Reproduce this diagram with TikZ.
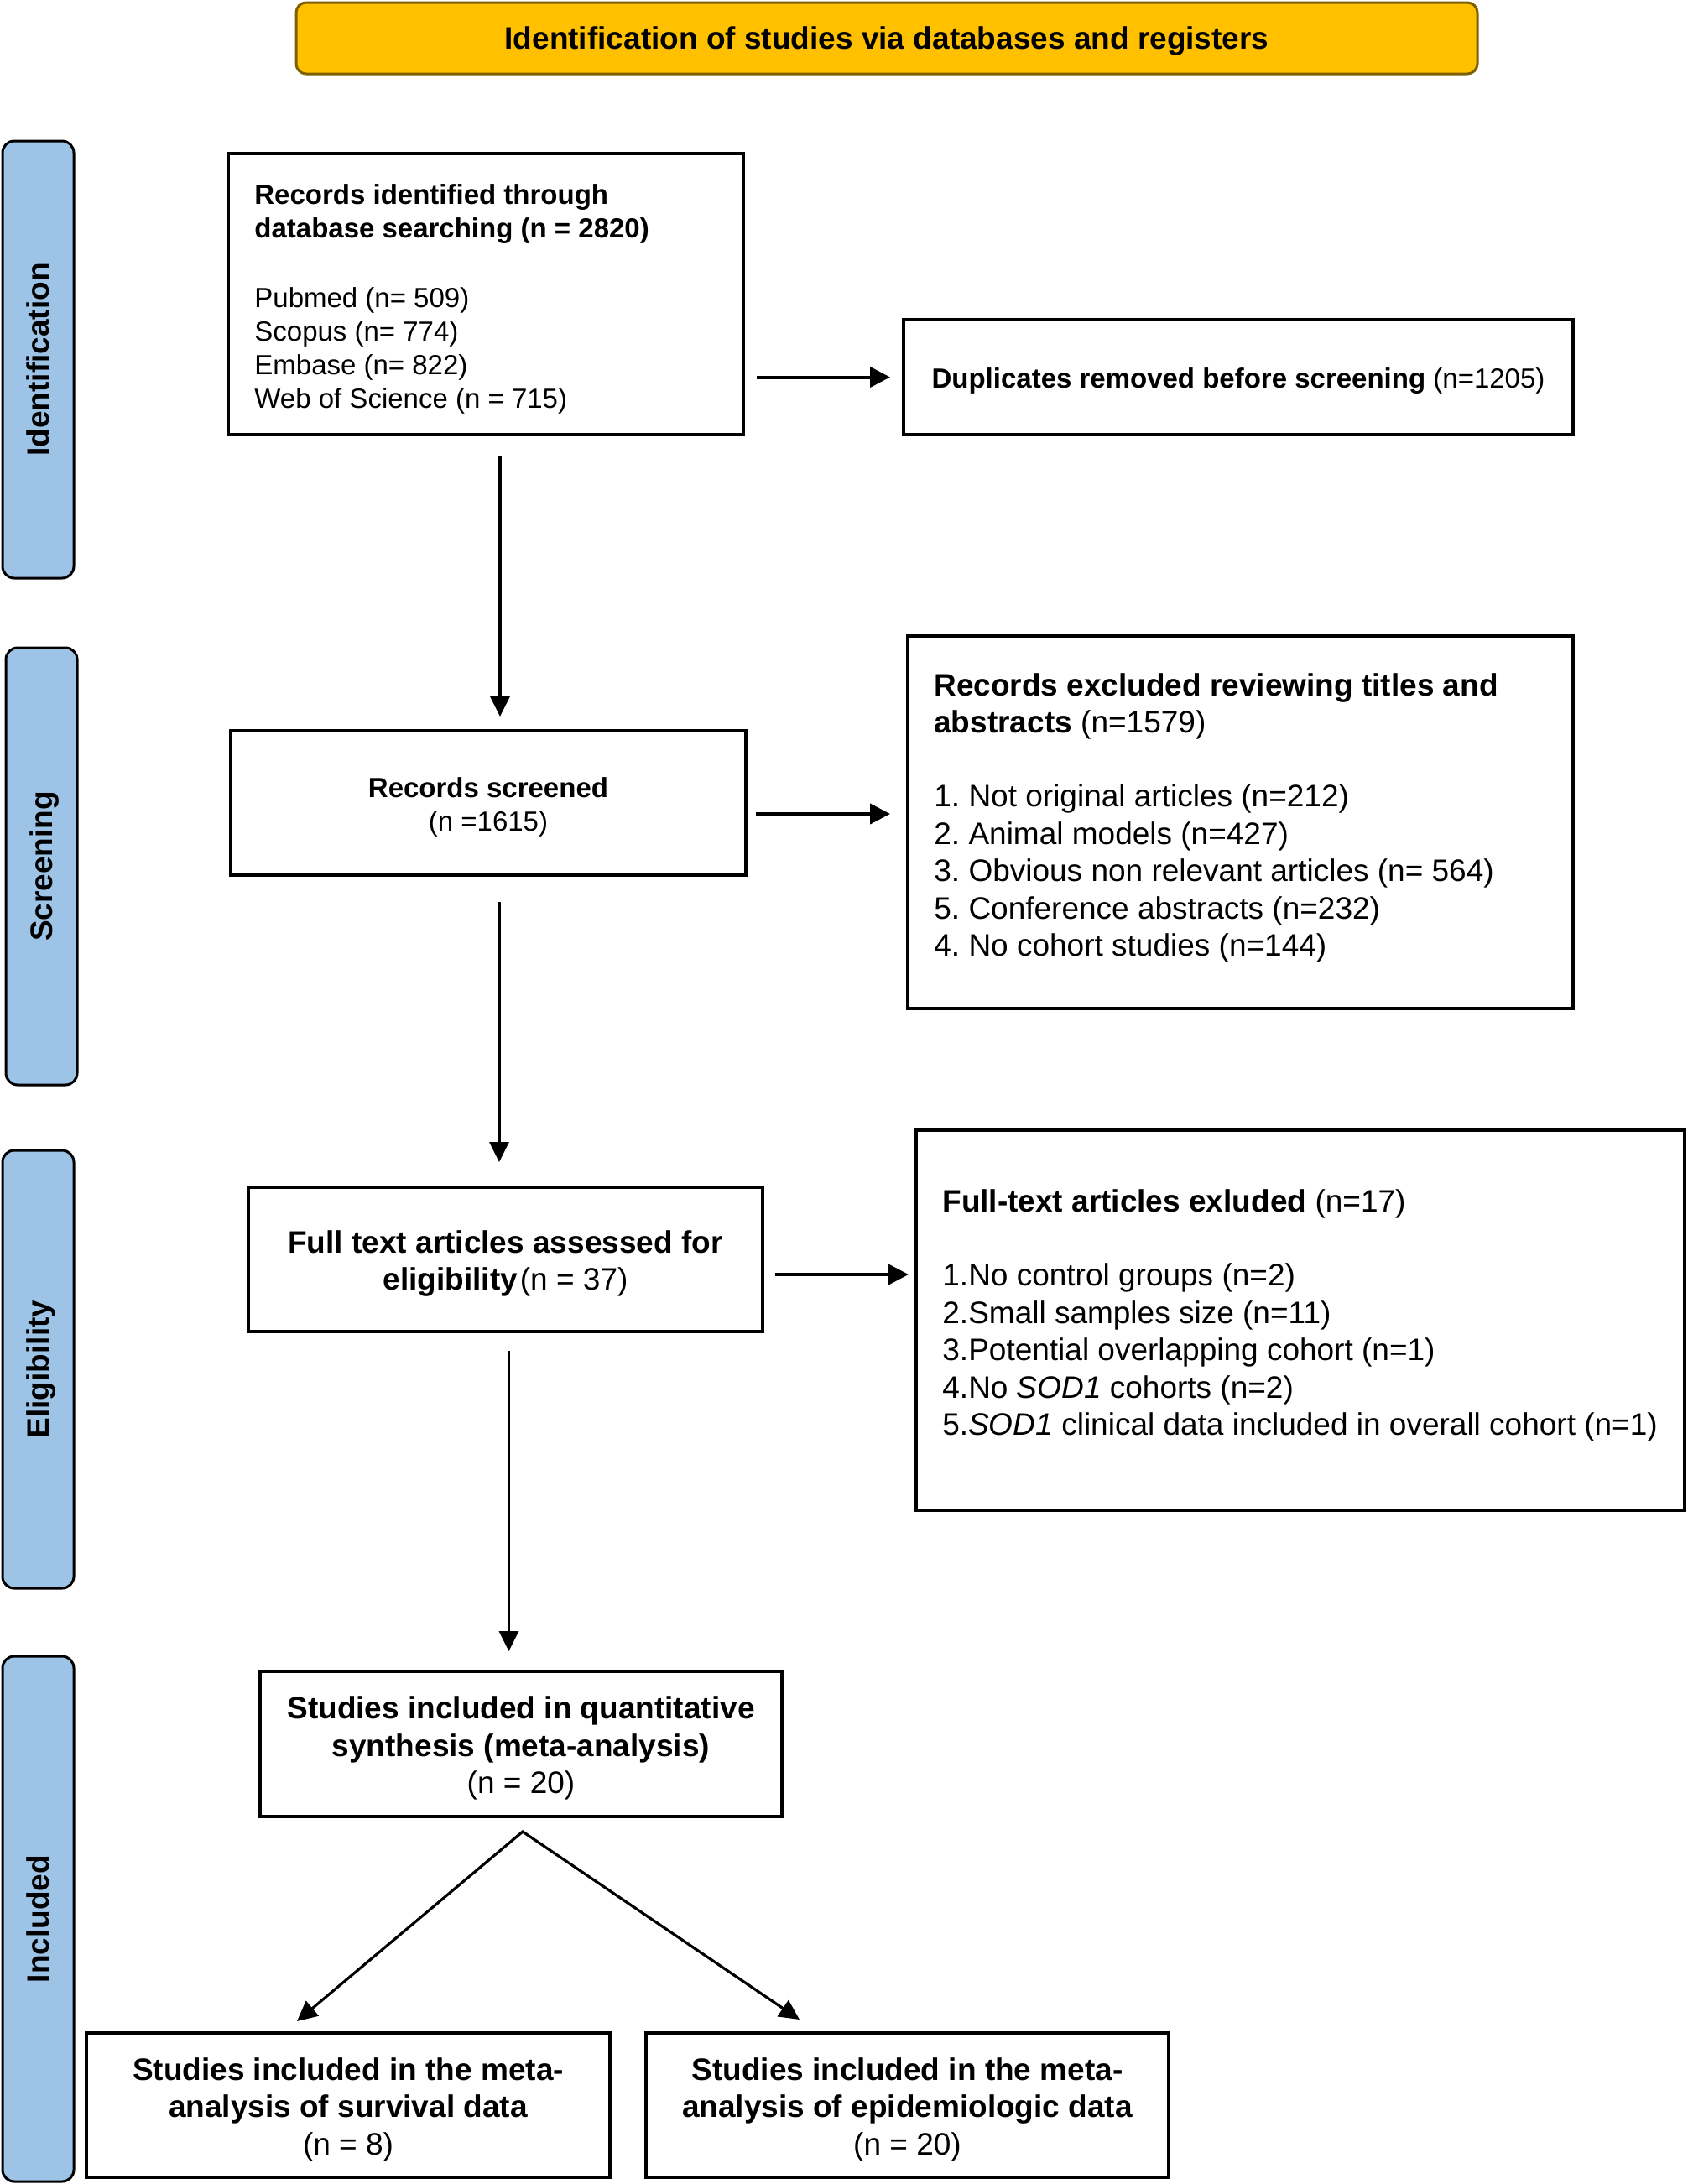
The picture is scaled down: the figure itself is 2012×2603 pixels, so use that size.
\documentclass[tikz,border=0pt]{standalone}
\usepackage{fontspec}
\setmainfont{Liberation Sans}
\usetikzlibrary{arrows.meta}
\definecolor{bangold}{HTML}{FFC000}
\definecolor{banedge}{HTML}{7F6000}
\definecolor{sideblue}{HTML}{9DC3E6}
\frenchspacing
\begin{document}
\begin{tikzpicture}[x=0.5pt,y=-0.5pt,
  box/.style={draw, line width=2pt, inner sep=0pt, fill=white},
  fsmall/.style={font=\fontsize{16.5}{20}\selectfont},
  fbig/.style={font=\fontsize{18.5}{22.25}\selectfont},
  sidebox/.style={draw, line width=1.5pt, fill=sideblue, rounded corners=7pt, rotate=90,
    inner sep=0pt, minimum height=42.5pt, font=\fontsize{18.5}{22}\selectfont\bfseries,
    text height=13.3pt, text depth=0pt},
  banner/.style={draw=banedge, line width=1.5pt, fill=bangold, rounded corners=6pt,
    inner sep=0pt, minimum width=704pt, minimum height=42.5pt},
  harr/.style={line width=2pt, -{Triangle[length=12pt,width=12pt]}},
  varr/.style={line width=1.6pt, -{Triangle[length=12pt,width=11.5pt]}},
  darr/.style={line width=1.6pt, {Triangle[length=12pt,width=11.5pt]}-{Triangle[length=12pt,width=11.5pt]}},
  txt/.style={inner sep=0pt, align=left, anchor=north west},
  ctxt/.style={inner sep=0pt, align=center}]
\fill[white] (0,0) rectangle (2012,2603);
\useasboundingbox (0,0) rectangle (2012,2603);

% banner
\node[banner] (ban) at (1057,45.5) {};
\node[ctxt, font=\fontsize{18.5}{22}\selectfont\bfseries] (bant) at ([yshift=-2pt]ban.center)
  {Identification of studies via databases and registers};

% side labels
\node[sidebox, minimum width=260.5pt] (sid) at (45.5,428.5) {Identification};
\node[sidebox, minimum width=260.5pt] (ssc) at (49.5,1032.5) {Screening};
\node[sidebox, minimum width=261pt] (sel) at (45.5,1632) {Eligibility};
\node[sidebox, minimum width=313pt] (sin) at (45.5,2287) {Included};

% boxes
\node[box, minimum width=307pt, minimum height=167.5pt] (b1) at (579,350.5) {};
\node[txt, fsmall] (b1t) at (303,219) {\textbf{Records identified through}\\
  \textbf{database searching (n = 2820)}\\[21.5pt]
  Pubmed (n= 509)\\ Scopus (n= 774)\\ Embase (n= 822)\\ Web of Science (n = 715)};

\node[box, minimum width=399pt, minimum height=68.5pt] (dup) at (1476,449.5) {};
\node[ctxt, fsmall] (dupt) at ([yshift=-2.5pt]dup.center)
  {\textbf{Duplicates removed before screening} (n=1205)};

\node[box, minimum width=307pt, minimum height=86pt] (rs) at (582,957) {};
\node[ctxt, fsmall] (rst) at ([yshift=-2.5pt]rs.center) {\textbf{Records screened}\\(n =1615)};

\node[box, minimum width=396.5pt, minimum height=222pt] (exc) at (1478.5,980) {};
\node[txt, fbig] (exct) at (1113,802) {\textbf{Records excluded reviewing titles and}\\
  \textbf{abstracts} (n=1579)\\[21.75pt]
  1. Not original articles (n=212)\\
  2. Animal models (n=427)\\
  3. Obvious non relevant articles (n= 564)\\
  5. Conference abstracts (n=232)\\
  4. No cohort studies (n=144)};

\node[box, minimum width=306.5pt, minimum height=86pt] (ft) at (602.5,1501) {};
\node[ctxt, fbig] (ftt) at ([yshift=-2.5pt]ft.center)
  {\textbf{Full text articles assessed for}\\\textbf{eligibility}\kern1.5pt(n = 37)};

\node[box, minimum width=458pt, minimum height=226.5pt] (ftx) at (1550,1573.5) {};
\node[txt, fbig] (ftxt) at (1123,1417) {\textbf{Full-text articles exluded} (n=17)\\[22pt]
  1.No control groups (n=2)\\
  2.Small samples size (n=11)\\
  3.Potential overlapping cohort (n=1)\\
  4.No \textit{SOD1} cohorts (n=2)\\
  5.\textit{SOD1} clinical data included in overall cohort (n=1)};

\node[box, minimum width=311pt, minimum height=86.5pt] (qb) at (621,2078.5) {};
\node[ctxt, fbig] (qbt) at ([yshift=-2.5pt]qb.center)
  {\textbf{Studies included in quantitative}\\\textbf{synthesis (meta-analysis)}\\(n = 20)};

\node[box, minimum width=312pt, minimum height=86pt] (bl) at (415,2509) {};
\node[ctxt, fbig] (blt) at ([yshift=-2.5pt]bl.center)
  {\textbf{Studies included in the meta-}\\\textbf{analysis of survival data}\\(n = 8)};
\node[box, minimum width=311.5pt, minimum height=86pt] (br) at (1081.5,2509) {};
\node[ctxt, fbig] (brt) at ([yshift=-2.5pt]br.center)
  {\textbf{Studies included in the meta-}\\\textbf{analysis of epidemiologic data}\\(n = 20)};

% connectors
\draw[harr, shorten <=7pt, shorten >=7pt] (b1.east |- dup.west) -- (dup.west);

\coordinate (h2) at ([yshift=-6.5pt]rs.east);
\draw[harr, shorten <=5pt, shorten >=9.5pt] (h2) -- (h2 -| exc.west);

\coordinate (h3) at ([yshift=-9pt]ft.east);
\draw[harr, shorten <=6.5pt, shorten >=3.5pt] (h3) -- (h3 -| ftx.west);

\coordinate (v1) at ([xshift=8.5pt]b1.south);
\draw[varr, shorten <=11.5pt, shorten >=7.5pt] (v1) -- (v1 |- rs.north);

\coordinate (v2) at ([xshift=6.5pt]rs.south);
\draw[varr, shorten <=15pt, shorten >=14pt] (v2) -- (v2 |- ft.north);

\coordinate (v3) at ([xshift=2pt]ft.south);
\draw[varr, shorten <=10.5pt, shorten >=11pt] (v3) -- (v3 |- qb.north);

\coordinate (apex) at ([xshift=1pt,yshift=-8pt]qb.south);
\coordinate (dl) at ([xshift=-30.5pt,yshift=6pt]bl.north);
\coordinate (dr) at ([xshift=-64.25pt,yshift=7pt]br.north);
\draw[darr, line join=miter] (dl) -- (apex) -- (dr);
\end{tikzpicture}
\end{document}
